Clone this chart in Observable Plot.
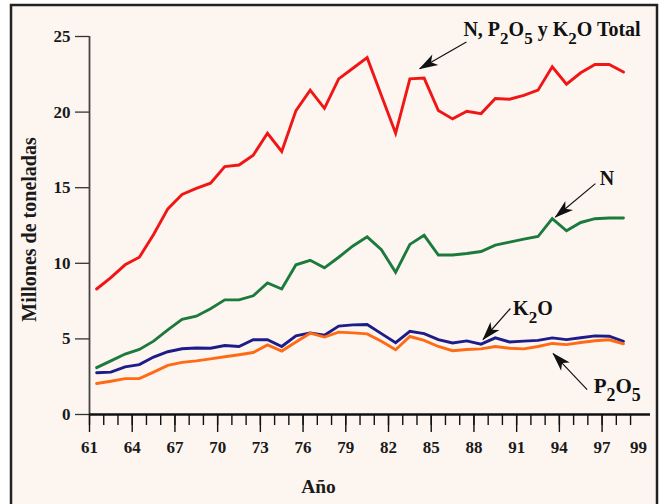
<!DOCTYPE html>
<html>
<head>
<meta charset="utf-8">
<script src="https://cdn.jsdelivr.net/npm/d3@7"></script>
<script src="https://cdn.jsdelivr.net/npm/@observablehq/plot@0.6"></script>
<style>
  html, body { margin: 0; padding: 0; background: #ffffff; }
  #chart { width: 663px; height: 504px; overflow: hidden; }
</style>
</head>
<body>
<div id="chart"></div>
<script>
// ---- Data (millones de toneladas) ----
const years = [61,62,63,64,65,66,67,68,69,70,71,72,73,74,75,76,77,78,79,80,
               81,82,83,84,85,86,87,88,89,90,91,92,93,94,95,96,97,98];
const total = [8.3,9.05,9.9,10.4,11.9,13.6,14.55,14.95,15.3,16.4,16.5,17.15,18.6,17.4,20.1,21.45,20.25,22.2,22.9,23.6,
               21.1,18.6,22.2,22.25,20.1,19.55,20.05,19.9,20.9,20.85,21.1,21.45,23.0,21.85,22.6,23.15,23.15,22.65];
const nitrogen = [3.1,3.55,4.0,4.3,4.85,5.6,6.3,6.5,7.0,7.58,7.58,7.85,8.7,8.3,9.9,10.2,9.7,10.4,11.15,11.75,
               10.9,9.4,11.25,11.85,10.55,10.55,10.65,10.78,11.2,11.4,11.6,11.77,12.95,12.15,12.7,12.95,13.0,13.0];
const potash = [2.76,2.8,3.15,3.3,3.8,4.15,4.35,4.4,4.38,4.56,4.5,4.94,4.94,4.5,5.2,5.4,5.25,5.85,5.93,5.95,
               5.35,4.75,5.5,5.35,4.95,4.73,4.87,4.65,5.07,4.8,4.85,4.9,5.07,4.95,5.08,5.2,5.18,4.84];
const phosphate = [2.05,2.2,2.37,2.37,2.8,3.25,3.45,3.55,3.68,3.82,3.95,4.1,4.6,4.2,4.8,5.38,5.12,5.45,5.4,5.33,
               4.85,4.28,5.16,4.9,4.5,4.22,4.3,4.34,4.5,4.38,4.34,4.5,4.7,4.62,4.76,4.88,4.94,4.67];

const seriesLabels = ["N, P₂O₅ y K₂O Total", "N", "K₂O", "P₂O₅"];
const seriesColors = ["#f01616", "#1c7a3c", "#1c1c8a", "#ff6a14"];

const yTicks = [0, 5, 10, 15, 20, 25];
const xMajorTicks = [61, 64, 67, 70, 73, 76, 79, 82, 85, 88, 91, 94, 97];
const xLastLabel = [99];
const xMinorTicks = d3.range(61, 100);

const yTitle = "Millones de toneladas";
const xTitle = "Año";

// annotation placement (data units): label start, arrow tail, arrow tip
const annotations = [
  {label: seriesLabels[0], size: 20, labelX: 87.26, labelY: 25.46, tailX: 87.47, tailY: 24.63, tipX: 84.19, tipY: 22.87},
  {label: seriesLabels[1], size: 20, labelX: 96.83, labelY: 15.6,  tailX: 96.53, tailY: 15.27, tipX: 93.72, tipY: 13.06},
  {label: seriesLabels[2], size: 20, labelX: 90.75, labelY: 7.01,  tailX: 90.56, tailY: 7.01,  tipX: 88.64, tipY: 4.96},
  {label: seriesLabels[3], size: 21, labelX: 96.41, labelY: 1.90,  tailX: 95.95, tailY: 1.65,  tipX: 93.56, tipY: 4.03}
];

const seriesValues = [total, nitrogen, potash, phosphate];
const tables = seriesValues.map(vals => years.map((yr, i) => ({year: yr, value: vals[i]})));
// draw order: total, N, K2O, P2O5
const lineMarks = tables.map((tbl, k) => Plot.line(tbl, {
  x: d => d.year + 0.5, y: "value",
  stroke: seriesColors[k], strokeWidth: 2.9, strokeLinejoin: "miter", strokeMiterlimit: 4
}));

const FONT = "'Liberation Serif', 'Times New Roman', serif";

const plot = Plot.plot({
  width: 663,
  height: 504,
  marginLeft: 89,
  marginRight: 13,
  marginTop: 36,
  marginBottom: 90,
  x: {domain: [61, 100.4]},
  y: {domain: [0, 25]},
  style: {background: "transparent", fontFamily: FONT, overflow: "visible"},
  marks: [
    Plot.ruleX([61], {stroke: "#444", strokeWidth: 1.8}),
    Plot.axisY({ticks: yTicks, tickSize: 14, tickPadding: 5, fontSize: 17, fontWeight: "bold",
                stroke: "#333", fill: "#1a1a1a", strokeWidth: 1.3, label: null}),
    Plot.axisX({ticks: xMinorTicks, tickSize: 11, tickFormat: () => "", stroke: "#111",
                strokeWidth: 1.4, label: null}),
    Plot.axisX({ticks: xMajorTicks, tickSize: 18, tickPadding: 8, tickFormat: d => String(d),
                fontSize: 17, fontWeight: "bold", stroke: "#111", fill: "#1a1a1a", strokeWidth: 1.4, label: null}),
    Plot.axisX({ticks: xLastLabel, tickSize: 0, tickPadding: 26, dx: 8, tickFormat: d => String(d),
                fontSize: 17, fontWeight: "bold", fill: "#1a1a1a", label: null}),
    Plot.ruleY([0], {stroke: "#111", strokeWidth: 2.6}),
    ...lineMarks,
    Plot.link(annotations, {x1: "tailX", y1: "tailY", x2: "tipX", y2: "tipY",
                            stroke: "#111", strokeWidth: 1.2, ariaLabel: "annot-arrows"}),
    Plot.text(annotations, {x: "labelX", y: "labelY", text: "label", textAnchor: "start",
                            fontSize: d => d.size, fontWeight: "bold", fill: "#111"}),
    Plot.text([yTitle], {text: d => d, frameAnchor: "left", textAnchor: "middle", lineAnchor: "middle",
                         rotate: -90, dx: -59.5, dy: 4,
                         fontSize: 20, fontWeight: "bold", fill: "#1a1a1a"}),
    Plot.text([xTitle], {text: d => d, frameAnchor: "bottom", textAnchor: "middle", lineAnchor: "middle",
                         dx: -51.5, dy: 72,
                         fontSize: 19.5, fontWeight: "bold", fill: "#1a1a1a"})
  ]
});

document.getElementById("chart").appendChild(plot);

// ---- decoration: framed cream panel, filled arrowheads, subscripts ----
const svg = d3.select(plot);
svg.insert("rect", ":first-child")
  .attr("x", 11).attr("y", 5).attr("width", 646).attr("height", 530)
  .attr("fill", "#fdf6f0").attr("stroke", "#222").attr("stroke-width", 2.5);

const defs = svg.append("defs");
defs.append("marker")
  .attr("id", "ahead").attr("markerUnits", "userSpaceOnUse")
  .attr("orient", "auto").attr("refX", 0).attr("refY", 0)
  .attr("markerWidth", 24).attr("markerHeight", 24)
  .attr("viewBox", "-20 -10 24 20")
  .style("overflow", "visible")
  .append("path").attr("d", "M1,0L-18,-6L-13,0L-18,6Z").attr("fill", "#111");

let arrowPaths = svg.selectAll('g[aria-label="annot-arrows"] path');
if (arrowPaths.empty()) arrowPaths = svg.selectAll('g[aria-label="link"] path');
arrowPaths.attr("marker-end", "url(#ahead)");

svg.selectAll("text").each(function () {
  const t = this.textContent;
  if (!/[\u2080-\u2089]/.test(t)) return;
  const fs = parseFloat(getComputedStyle(this).fontSize) || 18;
  const el = d3.select(this);
  const parts = t.match(/[\u2080-\u2089]+|[^\u2080-\u2089]+/g);
  this.textContent = "";
  let shifted = false;
  const shift = fs * 0.4;
  parts.forEach(p => {
    const sub = /[\u2080-\u2089]/.test(p);
    const txt = sub ? p.replace(/[\u2080-\u2089]/g, c => String(c.charCodeAt(0) - 0x2080)) : p;
    const ts = el.append("tspan").text(txt);
    if (sub) {
      ts.attr("font-size", (fs * 0.85) + "px").attr("dy", shift);
      shifted = true;
    } else if (shifted) {
      ts.attr("dy", -shift);
      shifted = false;
    }
  });
});
</script>
</body>
</html>
